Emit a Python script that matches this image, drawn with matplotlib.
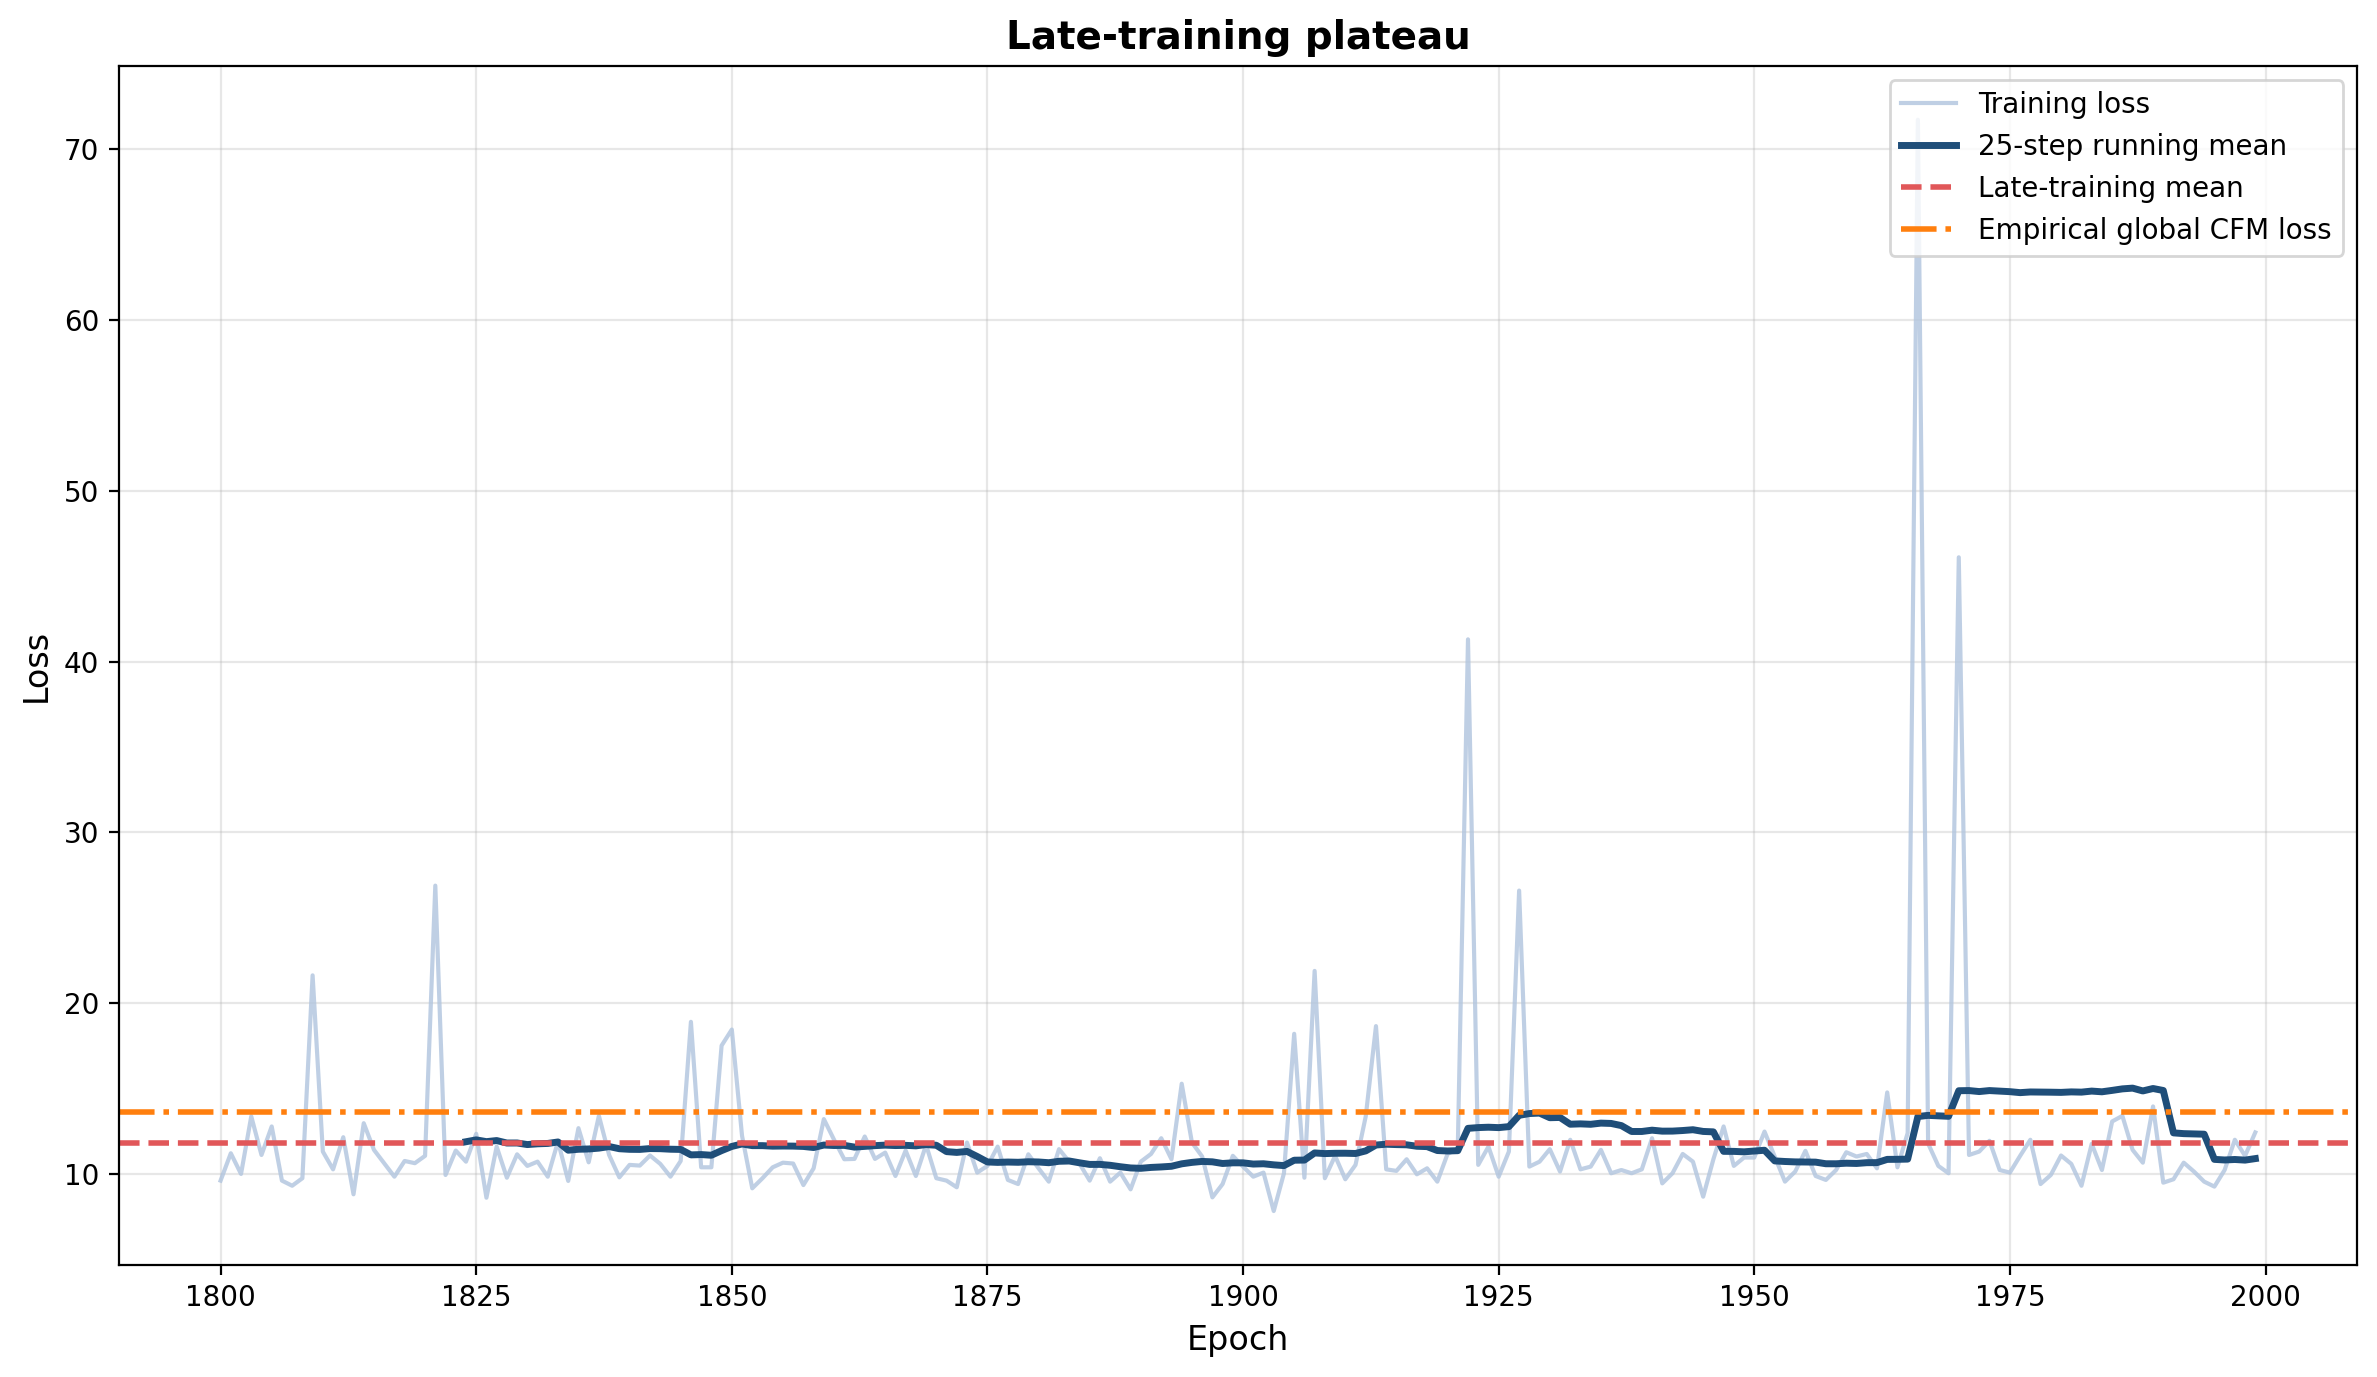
import numpy as np
import matplotlib
matplotlib.use("Agg")
import matplotlib.pyplot as plt

# Epochs 1800..1999 and the per-epoch training loss
epochs = np.arange(1800, 2000)

train_loss = [
    # 1800-1829
    9.63, 11.23, 10.02, 13.39, 11.13, 12.80, 9.63, 9.33, 9.77, 21.64,
    11.33, 10.29, 12.17, 8.83, 12.99, 11.43, 10.65, 9.86, 10.78, 10.65,
    11.08, 26.89, 9.96, 11.39, 10.74, 12.37, 8.63, 11.62, 9.80, 11.17,
    # 1830-1859
    10.49, 10.74, 9.86, 11.92, 9.61, 12.70, 10.70, 13.42, 11.13, 9.82,
    10.55, 10.51, 11.10, 10.61, 9.86, 10.78, 18.92, 10.41, 10.41, 17.53,
    18.47, 12.25, 9.18, 9.77, 10.41, 10.68, 10.63, 9.37, 10.35, 13.23,
    # 1860-1889
    12.02, 10.88, 10.90, 12.21, 10.90, 11.27, 9.90, 11.39, 9.90, 11.72,
    9.77, 9.63, 9.24, 11.86, 10.10, 10.49, 11.62, 9.67, 9.43, 11.17,
    10.35, 9.57, 11.47, 10.74, 10.63, 9.63, 10.94, 9.57, 10.10, 9.12,
    # 1890-1919
    10.74, 11.19, 12.11, 10.88, 15.30, 11.86, 11.04, 8.65, 9.43, 11.08,
    10.45, 9.86, 10.10, 7.85, 10.06, 18.22, 9.80, 21.90, 9.77, 11.08,
    9.71, 10.55, 13.39, 18.67, 10.29, 10.20, 10.88, 10.00, 10.35, 9.57,
    # 1920-1949
    11.19, 11.50, 41.30, 10.55, 11.62, 9.86, 11.33, 26.60, 10.45, 10.74,
    11.47, 10.16, 12.02, 10.29, 10.45, 11.43, 10.06, 10.25, 10.06, 10.29,
    12.11, 9.47, 10.06, 11.19, 10.74, 8.69, 10.88, 12.80, 10.49, 10.98,
    # 1950-1979
    10.98, 12.50, 11.04, 9.57, 10.16, 11.37, 9.90, 9.67, 10.25, 11.29,
    11.04, 11.19, 10.35, 14.79, 10.41, 12.41, 71.70, 11.80, 10.49, 10.06,
    46.10, 11.13, 11.33, 11.96, 10.25, 10.10, 11.08, 12.02, 9.43, 9.96,
    # 1980-1999
    11.10, 10.61, 9.33, 11.78, 10.25, 13.09, 13.42, 11.43, 10.68, 13.97,
    9.51, 9.71, 10.68, 10.16, 9.57, 9.28, 10.25, 12.02, 11.08, 12.45,
]

window = 25
late_mean = 11.86
global_cfm_loss = 13.62

loss = np.array(train_loss)
running = np.convolve(loss, np.ones(window) / window, mode="valid")
running_epochs = epochs[window - 1:]

fig, ax = plt.subplots(figsize=(11.885, 6.885), dpi=200)
fig.subplots_adjust(left=0.050, right=0.9916, top=0.952, bottom=0.0813)

ax.plot(epochs, loss, color="lightsteelblue", alpha=0.8, linewidth=1.5, label="Training loss")
ax.plot(running_epochs, running, color="#1f4e79", linewidth=2.5, label=f"{window}-step running mean")
ax.axhline(late_mean, color="#e15759", linestyle="--", linewidth=2, label="Late-training mean")
ax.axhline(global_cfm_loss, color="#ff7f0e", linestyle="-.", linewidth=2, label="Empirical global CFM loss")

ax.set_ylim(4.69, 74.84)
ax.set_title("Late-training plateau", fontsize=14, fontweight="bold")
ax.set_xlabel("Epoch", fontsize=12)
ax.set_ylabel("Loss", fontsize=12)
ax.grid(True, alpha=0.3)
ax.legend(loc="upper right", fontsize=10)

fig.savefig("out.png", dpi=200)
